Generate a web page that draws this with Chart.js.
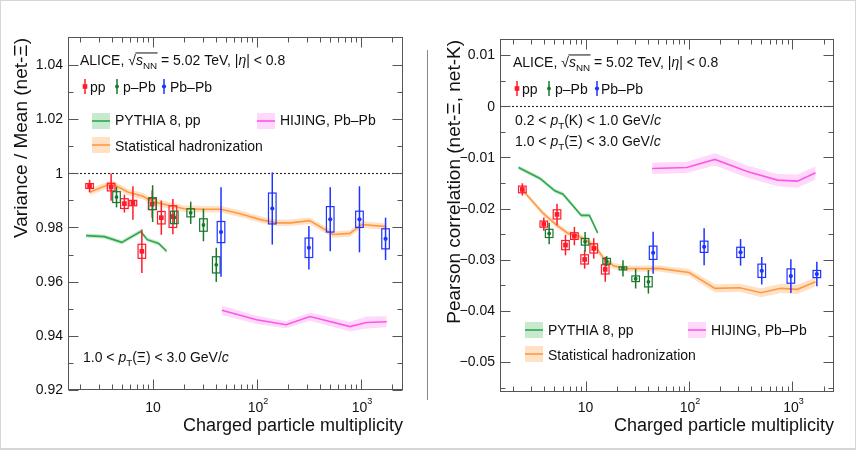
<!DOCTYPE html>
<html><head><meta charset="utf-8">
<script src="https://cdn.jsdelivr.net/npm/chart.js@4.4.1/dist/chart.umd.min.js"></script>
<style>
html,body{margin:0;padding:0;background:#fff;}
#wrap{position:relative;width:856px;height:450px;overflow:hidden;background:#fff;}
canvas{position:absolute;top:0;}
</style>
</head><body>
<div id="wrap">
<canvas id="c1" width="428" height="450" style="left:0;width:428px;height:450px"></canvas>
<canvas id="c2" width="428" height="450" style="left:428px;width:428px;height:450px"></canvas>
</div>
<script>
// ---------------- data ----------------
const ppX   = [2.45, 3.95, 5.3, 6.4, 7.8, 9.8, 12, 15.5];
const pPbX  = [4.45, 9.9, 16, 23, 30.5, 40.5];
const PbPbX = [45, 140, 315, 505, 965, 1720];

// left panel: Variance / Mean (net-Xi)
const vmPP       = [0.9953, 0.9949, 0.9888, 0.9890, 0.9712, 0.9886, 0.9836, 0.9840];
const vmPPStat   = [0.0023, 0.0050, 0.0033, 0.0062, 0.0080, 0.0050, 0.0063, 0.0065];
const vmPPSys    = [0.0009, 0.0014, 0.0018, 0.0010, 0.0026, 0.0020, 0.0023, 0.0040];
const vmPPb      = [0.9912, 0.9888, 0.9837, 0.9854, 0.9809, 0.9662];
const vmPPbStat  = [0.0038, 0.0068, 0.0025, 0.0041, 0.0060, 0.0063];
const vmPPbSys   = [0.0020, 0.0022, 0.0023, 0.0015, 0.0023, 0.0030];
const vmPbPb     = [0.9783, 0.9870, 0.9725, 0.9830, 0.9830, 0.9758];
const vmPbPbStat = [0.0165, 0.0133, 0.0080, 0.0118, 0.0122, 0.0078];
const vmPbPbSys  = [0.0039, 0.0057, 0.0036, 0.0047, 0.0030, 0.0037];

const vmPythiaX   = [2.27, 3.4, 5.0, 7.6, 8.8, 11.3, 13.5];
const vmPythiaY   = [0.9770, 0.9766, 0.9745, 0.9785, 0.9755, 0.9741, 0.9712];
const vmPythiaErr = [0.0008, 0.0008, 0.0008, 0.0008, 0.0008, 0.0008, 0.0008];
const vmHijingX   = [45.8, 99, 190, 323, 783, 1127, 1766];
const vmHijingY   = [0.9494, 0.9459, 0.9441, 0.9471, 0.9434, 0.9449, 0.9452];
const vmHijingErr = [0.0017, 0.0015, 0.0013, 0.0015, 0.0018, 0.0022, 0.0020];
const vmStatX     = [2.45, 4.0, 5.7, 8.0, 10, 14, 20, 30, 45, 70, 110, 155, 210, 320, 540, 780, 1020, 1750];
const vmStatY     = [0.9930, 0.9963, 0.9931, 0.9915, 0.9895, 0.9882, 0.9869, 0.9867, 0.9867, 0.9850, 0.9828, 0.9817, 0.9817, 0.9825, 0.9774, 0.9778, 0.9811, 0.9803];
const vmStatErr   = [0.0012, 0.0012, 0.0012, 0.0012, 0.0012, 0.0012, 0.0012, 0.0012, 0.0012, 0.0012, 0.0012, 0.0012, 0.0012, 0.0012, 0.0012, 0.0012, 0.0012, 0.0012];

// right panel: Pearson correlation (net-Xi, net-K)
const pcPP       = [-0.01627, -0.02305, -0.02115, -0.02715, -0.02539, -0.02995, -0.0278, -0.0319];
const pcPPStat   = [0.0012, 0.0013, 0.0021, 0.0020, 0.0018, 0.0018, 0.0020, 0.0024];
const pcPPSys    = [0.00065, 0.0006, 0.0009, 0.0009, 0.00065, 0.0009, 0.0009, 0.0009];
const pcPPb      = [-0.02487, -0.0265, -0.0303, -0.0317, -0.03373, -0.03432];
const pcPPbStat  = [0.0021, 0.0019, 0.0010, 0.0016, 0.0019, 0.0023];
const pcPPbSys   = [0.0008, 0.00065, 0.00055, 0.0003, 0.00055, 0.0010];
const pcPbPb     = [-0.02865, -0.02748, -0.02857, -0.03217, -0.0332, -0.03281];
const pcPbPbStat = [0.0041, 0.0036, 0.0026, 0.0027, 0.0033, 0.0024];
const pcPbPbSys  = [0.0013, 0.0011, 0.0010, 0.0013, 0.0014, 0.0007];

const pcPythiaX   = [2.25, 3.63, 5.05, 6.06, 9.1, 10.9, 13.1];
const pcPythiaY   = [-0.01198, -0.01413, -0.01654, -0.01719, -0.02135, -0.02135, -0.02475];
const pcPythiaErr = [0.0004, 0.0004, 0.0004, 0.0004, 0.0004, 0.0004, 0.0004];
const pcHijingX   = [44, 95, 178, 372, 718, 1117, 1671];
const pcHijingY   = [-0.01217, -0.01198, -0.01041, -0.01283, -0.01445, -0.01465, -0.01302];
const pcHijingErr = [0.0011, 0.0011, 0.0012, 0.0012, 0.0012, 0.0013, 0.0013];
const pcStatX     = [2.43, 3.9, 5.25, 6.78, 8.15, 10.1, 12.6, 15.2, 18.9, 24.5, 35.4, 51, 100, 178, 309, 497, 773, 1117, 1671];
const pcStatY     = [-0.01627, -0.02096, -0.02324, -0.02486, -0.0252, -0.02617, -0.0276, -0.02994, -0.03125, -0.0317, -0.03177, -0.0317, -0.0325, -0.0356, -0.03549, -0.03646, -0.0356, -0.0358, -0.03432];
const pcStatErr   = [0.0004, 0.0005, 0.0005, 0.0005, 0.0005, 0.0006, 0.0006, 0.0006, 0.0006, 0.0006, 0.0006, 0.0006, 0.0007, 0.0008, 0.0008, 0.0009, 0.0009, 0.0009, 0.0009];

// ticks
const xMajorTicks = [10, 100, 1000];
const xTickBase   = ['10', '10', '10'];
const xTickExp    = ['', '2', '3'];
const xMinorTicks = [2,3,4,5,6,7,8,9,20,30,40,50,60,70,80,90,200,300,400,500,600,700,800,900,2000];
const vmYTicks  = [0.92, 0.94, 0.96, 0.98, 1.00, 1.02, 1.04];
const vmYLabels = ['0.92', '0.94', '0.96', '0.98', '1', '1.02', '1.04'];
const vmYMinor  = [0.93, 0.95, 0.97, 0.99, 1.01, 1.03];
const pcYTicks  = [-0.05, -0.04, -0.03, -0.02, -0.01, 0, 0.01];
const pcYLabels = ['\u22120.05', '\u22120.04', '\u22120.03', '\u22120.02', '\u22120.01', '0', '0.01'];
const pcYMinor  = [-0.055, -0.045, -0.035, -0.025, -0.015, -0.005, 0.005];

// ---------------- style ----------------
const FONT = '"Liberation Sans", Arial, Helvetica, sans-serif';
const COL = {pp:'#ff1a2a', pPb:'#19772e', PbPb:'#1f33ff', pythia:'#2ea84a', hijing:'#ff55e8', stat:'#ff9a42'};
const BAND = {pythia:'rgba(70,185,95,0.30)', hijing:'rgba(255,130,240,0.30)', stat:'rgba(255,175,105,0.38)'};
const fnt = (s, it) => (it ? 'italic ' : '') + s + 'px ' + FONT;

const alice = [{t:'ALICE, '}, {sqrt:[{t:'s', it:true}, {t:'NN', sub:true}]}, {t:' = 5.02 TeV, |'}, {t:'\u03b7', it:true}, {t:'| < 0.8'}];
const ptXi = [{t:'1.0 < '}, {t:'p', it:true}, {t:'T', sub:true}, {t:'(\u039e) < 3.0 GeV/'}, {t:'c', it:true}];
const ptK  = [{t:'0.2 < '}, {t:'p', it:true}, {t:'T', sub:true}, {t:'(K) < 1.0 GeV/'}, {t:'c', it:true}];

function drawRich(ctx, x, y, segs, size) {
  let cx = x;
  for (const s of segs) {
    if (s.sqrt) {
      ctx.font = fnt(size);
      ctx.fillText('\u221a', cx, y);
      const w = ctx.measureText('\u221a').width;
      const x0 = cx + w - 0.5;
      const x1 = drawRich(ctx, cx + w, y, s.sqrt, size);
      ctx.save(); ctx.lineWidth = 1; ctx.strokeStyle = ctx.fillStyle;
      ctx.beginPath(); ctx.moveTo(x0, y - size * 0.86); ctx.lineTo(x1 + 0.5, y - size * 0.86); ctx.stroke(); ctx.restore();
      cx = x1; continue;
    }
    const sz = (s.sub || s.sup) ? size * 0.7 : size;
    ctx.font = fnt(sz, s.it);
    const dy = s.sub ? size * 0.3 : (s.sup ? -size * 0.42 : 0);
    ctx.fillText(s.t, cx, y + dy);
    cx += ctx.measureText(s.t).width;
  }
  return cx;
}

function markerShape(ctx, key, x, y) {
  ctx.fillStyle = COL[key];
  if (key === 'pp') { ctx.fillRect(x - 2.3, y - 2.3, 4.6, 4.6); }
  else { ctx.beginPath(); ctx.arc(x, y, key === 'pPb' ? 1.9 : 2.1, 0, Math.PI * 2); ctx.fill(); }
}

function makePlugin(p) {
  const o = p.offset;
  return {
    id: 'panel' + o,
    beforeDatasetsDraw(chart) {
      const {ctx, chartArea: a, scales: {y}} = chart;
      ctx.save();
      const py = Math.round(y.getPixelForValue(p.refLine)) + 0.5;
      ctx.strokeStyle = '#222'; ctx.lineWidth = 1.1; ctx.setLineDash([2, 2]);
      ctx.beginPath(); ctx.moveTo(a.left, py); ctx.lineTo(a.right, py); ctx.stroke();
      ctx.restore();
    },
    afterDatasetsDraw(chart) {
      const {ctx, chartArea: a, scales: {x, y}} = chart;
      ctx.save();
      // error bars and systematic boxes
      p.series.forEach(s => {
        ctx.strokeStyle = COL[s.key];
        s.x.forEach((xv, i) => {
          const px = x.getPixelForValue(xv);
          const yt = y.getPixelForValue(s.y[i] + s.stat[i]);
          const yb = y.getPixelForValue(s.y[i] - s.stat[i]);
          ctx.lineWidth = 1.5;
          ctx.beginPath(); ctx.moveTo(px, yt); ctx.lineTo(px, yb); ctx.stroke();
          const bt = y.getPixelForValue(s.y[i] + s.sys[i]);
          const bb = y.getPixelForValue(s.y[i] - s.sys[i]);
          ctx.lineWidth = 1.2;
          ctx.strokeRect(px - 3.8, bt, 7.6, bb - bt);
        });
      });
      // frame
      const L = Math.round(a.left) + 0.5, R = Math.round(a.right) - 0.5, T = Math.round(a.top) + 0.5, B = Math.round(a.bottom) - 0.5;
      ctx.strokeStyle = '#555'; ctx.lineWidth = 1;
      ctx.strokeRect(L, T, R - L, B - T);
      ctx.beginPath();
      const yTick = (v, len) => { const py = Math.round(y.getPixelForValue(v)) + 0.5; ctx.moveTo(L, py); ctx.lineTo(L + len, py); ctx.moveTo(R, py); ctx.lineTo(R - len, py); };
      p.yTicks.forEach(v => yTick(v, 10));
      p.yMinor.forEach(v => yTick(v, 5));
      const xTick = (v, len) => { const px = Math.round(x.getPixelForValue(v)) + 0.5; ctx.moveTo(px, B); ctx.lineTo(px, B - len); ctx.moveTo(px, T); ctx.lineTo(px, T + len); };
      xMajorTicks.forEach(v => xTick(v, 10));
      xMinorTicks.forEach(v => xTick(v, 5));
      ctx.stroke();
      // tick labels
      ctx.fillStyle = '#111';
      ctx.font = fnt(14); ctx.textAlign = 'right'; ctx.textBaseline = 'middle';
      p.yTicks.forEach((v, i) => ctx.fillText(p.yLabels[i], a.left - 5, y.getPixelForValue(v) + 0.5));
      ctx.textBaseline = 'alphabetic'; ctx.textAlign = 'left';
      xMajorTicks.forEach((v, i) => {
        const px = x.getPixelForValue(v);
        ctx.font = fnt(14); const w1 = ctx.measureText(xTickBase[i]).width;
        ctx.font = fnt(9); const w2 = xTickExp[i] ? ctx.measureText(xTickExp[i]).width : 0;
        const x0 = px - (w1 + w2) / 2 + (w2 ? 1 : 0);
        ctx.font = fnt(14); ctx.fillText(xTickBase[i], x0, 412);
        if (w2) { ctx.font = fnt(9); ctx.fillText(xTickExp[i], x0 + w1, 404); }
      });
      // axis titles
      ctx.font = fnt(18); ctx.textAlign = 'right';
      ctx.fillText('Charged particle multiplicity', a.right, 431);
      ctx.save(); ctx.translate(p.yTitleX - o, p.yTitleEnd); ctx.rotate(-Math.PI / 2);
      ctx.font = fnt(19); ctx.textAlign = 'right'; ctx.fillText(p.yTitle, 0, 0); ctx.restore();
      ctx.textAlign = 'left';
      // header texts
      drawRich(ctx, p.alice[0] - o, p.alice[1], alice, 14);
      p.notes.forEach(n => drawRich(ctx, n.x - o, n.y, n.segs, 14));
      // data legend
      p.dataLegend.forEach(d => {
        const cy = p.legendY - 5.5;
        ctx.strokeStyle = COL[d.key]; ctx.lineWidth = 1.5;
        ctx.beginPath(); ctx.moveTo(d.mx - o, cy - 7.5); ctx.lineTo(d.mx - o, cy + 7.5); ctx.stroke();
        markerShape(ctx, d.key, d.mx - o, cy);
        ctx.fillStyle = '#111'; ctx.font = fnt(14);
        ctx.fillText(d.label, d.tx - o, p.legendY);
      });
      // model legend
      p.modelLegend.forEach(m => {
        ctx.fillStyle = BAND[m.key]; ctx.fillRect(m.bx - o, m.by, 18, 16);
        ctx.strokeStyle = COL[m.key]; ctx.lineWidth = 1.6;
        ctx.beginPath(); ctx.moveTo(m.bx - o, m.by + 8); ctx.lineTo(m.bx - o + 18, m.by + 8); ctx.stroke();
        ctx.fillStyle = '#111'; ctx.font = fnt(14); ctx.fillText(m.label, m.tx - o, m.ty);
      });
      // outer border and separator
      ctx.strokeStyle = '#d6d6d6'; ctx.lineWidth = 1;
      ctx.beginPath();
      ctx.moveTo(0, 0.5); ctx.lineTo(428, 0.5);
      ctx.moveTo(0, 448.5); ctx.lineTo(428, 448.5);
      ctx.moveTo(0, 449.5); ctx.lineTo(428, 449.5);
      if (o === 0) { ctx.moveTo(0.5, 0); ctx.lineTo(0.5, 450); }
      else { ctx.moveTo(427.5, 0); ctx.lineTo(427.5, 450); }
      ctx.stroke();
      if (o === 0) {
        ctx.strokeStyle = '#8a8a8a'; ctx.lineWidth = 1;
        ctx.beginPath(); ctx.moveTo(427.5, 50); ctx.lineTo(427.5, 400); ctx.stroke();
      }
      ctx.restore();
    }
  };
}

function buildDatasets(p) {
  const ds = [];
  p.series.forEach(s => ds.push({
    data: s.x.map((v, i) => ({x: v, y: s.y[i]})), showLine: false,
    pointStyle: s.key === 'pp' ? 'rect' : 'circle', pointRadius: s.key === 'pp' ? 3.3 : (s.key === 'pPb' ? 1.9 : 2.1),
    pointBackgroundColor: COL[s.key], pointBorderColor: COL[s.key], pointBorderWidth: 0, order: 0
  }));
  p.models.forEach(m => {
    ds.push({data: m.x.map((v, i) => ({x: v, y: m.y[i] + m.e[i]})), borderColor: 'rgba(0,0,0,0)', borderWidth: 0, pointRadius: 0, fill: '+1', backgroundColor: BAND[m.key], tension: 0, order: 2});
    ds.push({data: m.x.map((v, i) => ({x: v, y: m.y[i] - m.e[i]})), borderColor: 'rgba(0,0,0,0)', borderWidth: 0, pointRadius: 0, fill: false, tension: 0, order: 2});
    ds.push({data: m.x.map((v, i) => ({x: v, y: m.y[i]})), borderColor: COL[m.key], borderWidth: 1.6, pointRadius: 0, fill: false, tension: 0, order: 1});
  });
  return ds;
}

function makeChart(id, p) {
  new Chart(document.getElementById(id), {
    type: 'line',
    data: {datasets: buildDatasets(p)},
    options: {
      responsive: false, animation: false, devicePixelRatio: 1,
      layout: {padding: p.padding},
      plugins: {legend: {display: false}, tooltip: {enabled: false}},
      events: [],
      scales: {
        x: {type: 'logarithmic', min: p.xMin, max: p.xMax, display: false},
        y: {type: 'linear', min: p.yMin, max: p.yMax, display: false}
      }
    },
    plugins: [makePlugin(p)]
  });
}

const leftPanel = {
  offset: 0, padding: {left: 68, right: 25, top: 37, bottom: 60},
  xMin: 1.52, xMax: 2530, yMin: 0.92, yMax: 1.0503, refLine: 1,
  yTicks: vmYTicks, yLabels: vmYLabels, yMinor: vmYMinor,
  yTitle: 'Variance / Mean (net-\u039e)', yTitleX: 27, yTitleEnd: 38,
  series: [
    {key: 'pp', x: ppX, y: vmPP, stat: vmPPStat, sys: vmPPSys},
    {key: 'pPb', x: pPbX, y: vmPPb, stat: vmPPbStat, sys: vmPPbSys},
    {key: 'PbPb', x: PbPbX, y: vmPbPb, stat: vmPbPbStat, sys: vmPbPbSys}
  ],
  models: [
    {key: 'pythia', x: vmPythiaX, y: vmPythiaY, e: vmPythiaErr},
    {key: 'hijing', x: vmHijingX, y: vmHijingY, e: vmHijingErr},
    {key: 'stat', x: vmStatX, y: vmStatY, e: vmStatErr}
  ],
  alice: [80, 65], legendY: 92,
  dataLegend: [{key: 'pp', mx: 85, tx: 90, label: 'pp'}, {key: 'pPb', mx: 117, tx: 123, label: 'p\u2013Pb'}, {key: 'PbPb', mx: 164, tx: 170, label: 'Pb\u2013Pb'}],
  modelLegend: [
    {key: 'pythia', bx: 92, by: 113, tx: 115, ty: 125, label: 'PYTHIA 8, pp'},
    {key: 'hijing', bx: 257, by: 113, tx: 280, ty: 125, label: 'HIJING, Pb\u2013Pb'},
    {key: 'stat', bx: 92, by: 137, tx: 115, ty: 151, label: 'Statistical hadronization'}
  ],
  notes: [{x: 83, y: 362, segs: ptXi}]
};

const rightPanel = {
  offset: 428, padding: {left: 72, right: 22, top: 39, bottom: 58},
  xMin: 1.49, xMax: 2520, yMin: -0.05586, yMax: 0.01313, refLine: 0,
  yTicks: pcYTicks, yLabels: pcYLabels, yMinor: pcYMinor,
  yTitle: 'Pearson correlation (net-\u039e, net-K)', yTitleX: 460, yTitleEnd: 40,
  series: [
    {key: 'pp', x: ppX, y: pcPP, stat: pcPPStat, sys: pcPPSys},
    {key: 'pPb', x: pPbX, y: pcPPb, stat: pcPPbStat, sys: pcPPbSys},
    {key: 'PbPb', x: PbPbX, y: pcPbPb, stat: pcPbPbStat, sys: pcPbPbSys}
  ],
  models: [
    {key: 'pythia', x: pcPythiaX, y: pcPythiaY, e: pcPythiaErr},
    {key: 'hijing', x: pcHijingX, y: pcHijingY, e: pcHijingErr},
    {key: 'stat', x: pcStatX, y: pcStatY, e: pcStatErr}
  ],
  alice: [513, 67], legendY: 94,
  dataLegend: [{key: 'pp', mx: 517, tx: 522, label: 'pp'}, {key: 'pPb', mx: 549, tx: 555, label: 'p\u2013Pb'}, {key: 'PbPb', mx: 597, tx: 601, label: 'Pb\u2013Pb'}],
  modelLegend: [
    {key: 'pythia', bx: 525, by: 322, tx: 548, ty: 335, label: 'PYTHIA 8, pp'},
    {key: 'hijing', bx: 688, by: 322, tx: 711, ty: 335, label: 'HIJING, Pb\u2013Pb'},
    {key: 'stat', bx: 525, by: 346, tx: 548, ty: 360, label: 'Statistical hadronization'}
  ],
  notes: [{x: 515, y: 125, segs: ptK}, {x: 515, y: 146, segs: ptXi}]
};

makeChart('c1', leftPanel);
makeChart('c2', rightPanel);
</script>
</body></html>
